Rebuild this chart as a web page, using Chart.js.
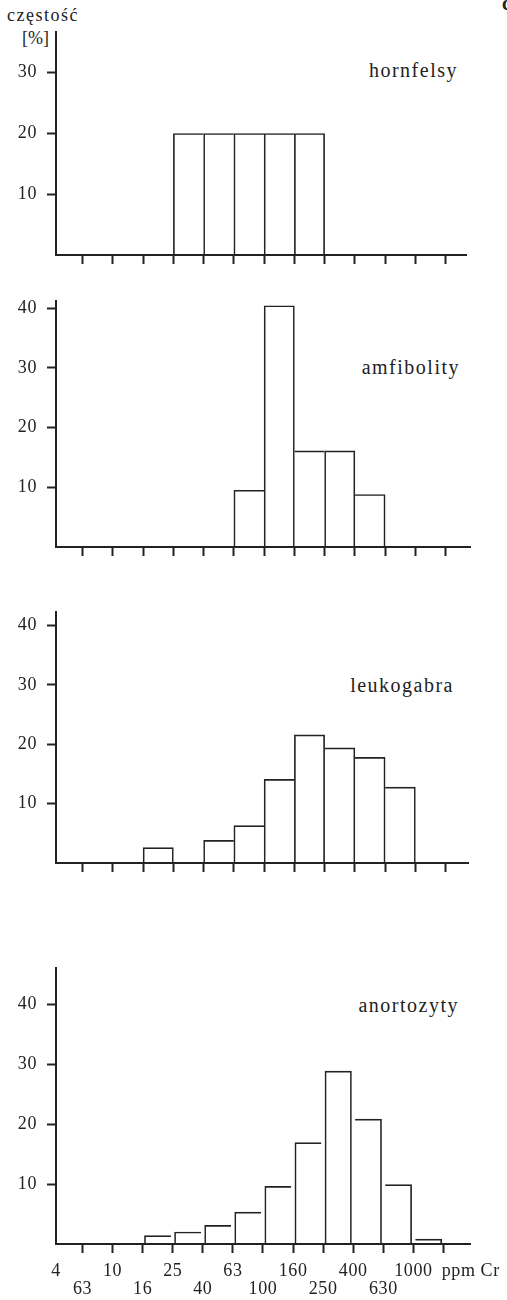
<!DOCTYPE html>
<html>
<head>
<meta charset="utf-8">
<script src="https://cdn.jsdelivr.net/npm/chart.js@4.4.0/dist/chart.umd.min.js"></script>
<style>
  html, body { margin: 0; padding: 0; background: #fff; }
  body { width: 507px; height: 1300px; position: relative; overflow: hidden;
         font-family: "Liberation Serif", "Times New Roman", serif; color: #222; }
  canvas { position: absolute; left: 0; }
  .txt { position: absolute; line-height: 1; white-space: nowrap; }
  .name { font-size: 20px; letter-spacing: 1.5px; }
</style>
</head>
<body>
<div class="txt" style="left:7px;top:6px;font-size:18px;letter-spacing:1.5px">częstość</div>
<div class="txt" style="left:22px;top:29px;font-size:18px">[%]</div>
<div class="txt" style="left:502px;top:-7px;font-size:20px;font-weight:bold">c</div>

<div class="txt name" style="right:49px;top:60px">hornfelsy</div>
<div class="txt name" style="right:47px;top:357px">amfibolity</div>
<div class="txt name" style="right:53px;top:675px">leukogabra</div>
<div class="txt name" style="right:48px;top:995px">anortozyty</div>

<canvas id="c1"></canvas>
<canvas id="c2"></canvas>
<canvas id="c3"></canvas>
<canvas id="c4"></canvas>

<script>
// Granice klas Cr [ppm] (skala log), tak jak podpisane na osi
const tickLabels = ['4', '63', '10', '16', '25', '40', '63', '100', '160', '250', '400', '630', '1000'];
const unitLabel = 'ppm Cr';

// częstość [%] w 14 klasach: 4-6.3, 6.3-10, 10-16, ... , 1600-2500
const hornfelsy  = [0, 0, 0, 0,   20,  20,  20,  20,   20,   0,    0,    0,    0,   0];
const amfibolity = [0, 0, 0, 0,   0,   0,   9.5, 40.4, 16.1, 16.1, 8.8,  0,    0,   0];
const leukogabra = [0, 0, 0, 2.6, 0,   3.8, 6.3, 14.1, 21.6, 19.4, 17.8, 12.8, 0,   0];
const anortozyty = [0, 0, 0, 1.4, 2.0, 3.1, 5.3, 9.6,  16.9, 28.8, 20.8, 9.9,  0.8, 0];

const ink = '#222';
const fontFamily = '"Liberation Serif", "Times New Roman", serif';
const axisLeft = 56;     // piksel osi Y
const xMin = 0.12;       // pozycja "4" względem klas
const pxPerBin = 30.25;

const panels = [
    { id: 'c1', values: hornfelsy,  top: 32,  bottom: 255,  end: 466, yMax: 36.7, yTicks: [10, 20, 30],     labels: false },
    { id: 'c2', values: amfibolity, top: 301, bottom: 547,  end: 470, yMax: 41.2, yTicks: [10, 20, 30, 40], labels: false },
    { id: 'c3', values: leukogabra, top: 612, bottom: 863,  end: 468, yMax: 42.3, yTicks: [10, 20, 30, 40], labels: false },
    { id: 'c4', values: anortozyty, top: 968, bottom: 1244, end: 473, yMax: 46.0, yTicks: [10, 20, 30, 40], labels: true }
];

// wspólna krawędź dwóch słupków rysuje tylko wyższy z nich
function edgeWidths(values, i) {
    const v = values[i];
    const prev = i > 0 ? values[i - 1] : 0;
    const next = i < values.length - 1 ? values[i + 1] : 0;
    return { left: prev <= v ? 1 : 0, top: 1, right: next < v ? 1 : 0, bottom: 0 };
}

const spacing = {
    id: 'spacing',
    beforeDraw(chart) { chart.ctx.letterSpacing = '0.6px'; }
};

function drawPanel(p) {
    const padTop = 22;
    const axisH = p.labels ? 62 : 22;
    const canvas = document.getElementById(p.id);
    canvas.width = 507;
    canvas.height = p.bottom - p.top + padTop + axisH;
    canvas.style.top = (p.top - padTop) + 'px';
    const xMax = xMin + (p.end - axisLeft) / pxPerBin;

    // ticki osi X: "4" przy osi Y, 13 kresek, "ppm Cr" na końcu osi
    const xTicks = [];
    const xText = [];
    const hidden = new Set();
    if (p.labels) {
        hidden.add(xTicks.length);
        xTicks.push(xMin);
        xText.push([tickLabels[0], '']);
    }
    for (let k = 1; k <= 13; k++) {
        xTicks.push(k);
        const t = tickLabels[k] || '';
        xText.push(k % 2 === 0 ? [t, ''] : ['', t]);
    }
    if (p.labels) {
        hidden.add(xTicks.length);
        xTicks.push(xMax);
        xText.push([unitLabel, '']);
    }

    new Chart(canvas.getContext('2d'), {
        type: 'bar',
        data: {
            datasets: [{
                data: p.values.map((v, i) => ({ x: i + 0.5, y: v })),
                backgroundColor: 'rgba(0,0,0,0)',
                borderColor: ink,
                borderWidth: ctx => edgeWidths(p.values, ctx.dataIndex),
                barPercentage: 1,
                categoryPercentage: 1
            }]
        },
        plugins: [spacing],
        options: {
            responsive: false,
            animation: false,
            events: [],
            layout: { padding: { top: padTop, left: 0, right: 507 - p.end, bottom: 0 } },
            plugins: {
                legend: { display: false },
                tooltip: { enabled: false },
                title: { display: false }
            },
            scales: {
                x: {
                    type: 'linear',
                    min: xMin,
                    max: xMax,
                    offset: false,
                    afterBuildTicks: s => { s.ticks = xTicks.map(v => ({ value: v })); },
                    afterFit: s => { s.height = axisH; },
                    grid: {
                        offset: false,
                        drawOnChartArea: false,
                        drawTicks: true,
                        tickLength: 9,
                        tickWidth: 2,
                        tickColor: ctx => hidden.has(ctx.index) ? 'rgba(0,0,0,0)' : ink
                    },
                    border: { display: true, color: ink, width: 2 },
                    ticks: {
                        autoSkip: false,
                        maxRotation: 0,
                        minRotation: 0,
                        padding: 9,
                        color: ink,
                        font: { family: fontFamily, size: 18, lineHeight: 1 },
                        callback: (value, index) => p.labels ? xText[index] : ''
                    }
                },
                y: {
                    min: 0,
                    max: p.yMax,
                    afterBuildTicks: s => { s.ticks = p.yTicks.map(v => ({ value: v })); },
                    afterFit: s => { s.width = axisLeft; },
                    grid: {
                        drawOnChartArea: false,
                        drawTicks: true,
                        tickLength: 9,
                        tickWidth: 2,
                        tickColor: ink
                    },
                    border: { display: true, color: ink, width: 2 },
                    ticks: {
                        padding: 10,
                        color: ink,
                        font: { family: fontFamily, size: 18, lineHeight: 1 }
                    }
                }
            }
        }
    });
}

panels.forEach(drawPanel);
</script>
</body>
</html>
